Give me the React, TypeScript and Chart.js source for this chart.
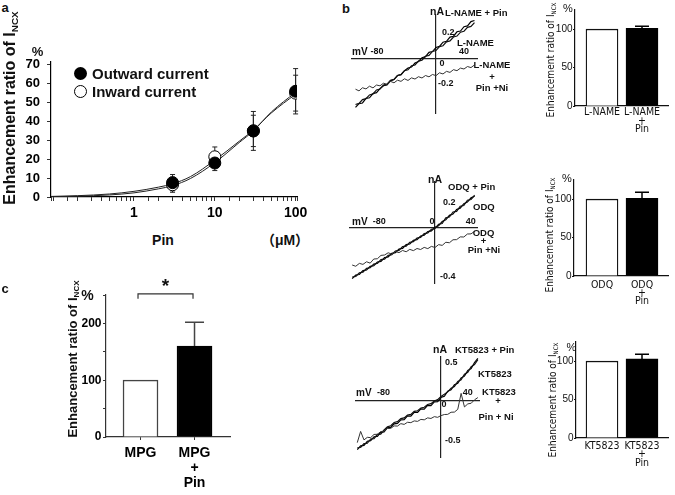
import React, { useEffect, useRef } from 'react';
import { Chart, registerables } from 'chart.js';

Chart.register(...registerables);

const SANS = "'Liberation Sans', Arial, Helvetica, sans-serif";
const SANS_CJK = "'Liberation Sans', 'Noto Sans CJK JP', sans-serif";
const NARROW = "'Liberation Sans Narrow', 'Arial Narrow', 'DejaVu Sans Condensed', 'Liberation Sans', sans-serif";

// ---------------- Panel a: dose response ----------------
const PIN_CONC = [3, 10, 30, 100];
const OUT_MEAN = [7.6, 18, 35, 56];
const OUT_ERR = [4.3, 4, 10.3, 12];
const IN_MEAN = [6.5, 21.3, 35, 55];
const IN_ERR = [4, 5.2, 8.3, 9.5];
const FIT_CONC = [0.094, 0.2, 0.5, 1, 2, 3, 5, 10, 20, 30, 50, 100];
const FIT_IN = [0.3, 0.7, 1.6, 3.0, 5.2, 7.0, 10.8, 19.5, 29.5, 35.5, 44.5, 54.5];
const FIT_OUT = [0.1, 0.4, 1.1, 2.2, 4.3, 6.0, 9.8, 18.2, 28.8, 35.0, 45.0, 55.5];

// ---------------- Panel c: MPG ----------------
const C_POS = [1, 2];
const C_LABELS = [['MPG'], ['MPG', '+', 'Pin']];
const C_MEAN = [100, 160];
const C_ERR = [0, 42];

// ---------------- Panel b: bar insets ----------------
const BAR_POS = [1, 2];
const LNAME_LABELS = [['L-NAME'], ['L-NAME', '+', 'Pin']];
const LNAME_MEAN = [100, 101];
const LNAME_ERR = [0, 3];
const ODQ_LABELS = [['ODQ'], ['ODQ', '+', 'Pin']];
const ODQ_MEAN = [100, 101];
const ODQ_ERR = [0, 8];
const KT_LABELS = [['KT5823'], ['KT5823', '+', 'Pin']];
const KT_MEAN = [100, 103];
const KT_ERR = [0, 6];

// ---------------- Panel b: I-V traces (mV, nA) ----------------
const V1 = [-115, -110, -105, -100, -95, -90, -85, -80, -75, -70, -65, -60, -55, -50, -45, -40, -35, -30, -25, -20, -15, -10, -5, 0, 5, 10, 15, 20, 25, 30, 35, 40, 45, 50, 55];
const LNAME_PIN_I = [-0.372, -0.343, -0.338, -0.302, -0.298, -0.266, -0.259, -0.228, -0.205, -0.199, -0.168, -0.158, -0.127, -0.120, -0.090, -0.069, -0.062, -0.031, -0.019, 0.010, 0.018, 0.051, 0.057, 0.088, 0.097, 0.129, 0.136, 0.168, 0.175, 0.209, 0.215, 0.248, 0.254, 0.287, 0.296];
const LNAME_I = [-0.350, -0.341, -0.312, -0.305, -0.276, -0.268, -0.238, -0.231, -0.201, -0.193, -0.164, -0.157, -0.127, -0.120, -0.090, -0.083, -0.053, -0.046, -0.016, -0.009, 0.021, 0.028, 0.058, 0.065, 0.095, 0.102, 0.132, 0.139, 0.169, 0.176, 0.206, 0.213, 0.243, 0.250, 0.279];
const LNAME_NI_I = [-0.232, -0.245, -0.221, -0.230, -0.209, -0.222, -0.200, -0.206, -0.186, -0.195, -0.172, -0.183, -0.163, -0.172, -0.152, -0.165, -0.145, -0.154, -0.136, -0.146, -0.127, -0.137, -0.119, -0.128, -0.106, -0.115, -0.095, -0.103, -0.082, -0.090, -0.070, -0.077, -0.058, -0.066, -0.046];

const V2 = [-115, -110, -105, -100, -95, -90, -85, -80, -75, -70, -65, -60, -55, -50, -45, -40, -35, -30, -25, -20, -15, -10, -5, 0, 5, 10, 15, 20, 25, 30, 35, 40, 45, 50, 55];
const ODQ_PIN_I = [-0.405, -0.376, -0.372, -0.341, -0.336, -0.307, -0.302, -0.272, -0.267, -0.237, -0.232, -0.203, -0.197, -0.168, -0.163, -0.133, -0.128, -0.098, -0.093, -0.064, -0.058, -0.029, -0.023, 0.006, 0.018, 0.053, 0.065, 0.101, 0.112, 0.148, 0.159, 0.195, 0.207, 0.242, 0.254];
const ODQ_I = [-0.392, -0.388, -0.358, -0.353, -0.323, -0.318, -0.288, -0.283, -0.253, -0.249, -0.219, -0.214, -0.184, -0.179, -0.149, -0.145, -0.114, -0.110, -0.080, -0.075, -0.045, -0.040, -0.010, -0.004, 0.030, 0.036, 0.082, 0.088, 0.128, 0.133, 0.174, 0.180, 0.222, 0.228, 0.262];
const ODQ_NI_I = [-0.296, -0.306, -0.283, -0.291, -0.270, -0.281, -0.248, -0.246, -0.219, -0.216, -0.198, -0.209, -0.188, -0.197, -0.180, -0.190, -0.171, -0.181, -0.164, -0.172, -0.155, -0.165, -0.147, -0.156, -0.133, -0.139, -0.114, -0.118, -0.094, -0.093, -0.071, -0.072, -0.048, -0.047, -0.026];

const V3 = [-125, -120, -115, -110, -105, -100, -95, -90, -85, -80, -75, -70, -65, -60, -55, -50, -45, -40, -35, -30, -25, -20, -15, -10, -5, 0, 5, 10, 15, 20, 25, 30, 35, 40, 45, 50, 55];
const KT_PIN_I = [-0.640, -0.590, -0.585, -0.530, -0.522, -0.470, -0.466, -0.412, -0.406, -0.352, -0.348, -0.300, -0.294, -0.248, -0.246, -0.197, -0.199, -0.150, -0.151, -0.104, -0.106, -0.058, -0.060, -0.012, -0.010, 0.048, 0.062, 0.128, 0.147, 0.213, 0.232, 0.302, 0.327, 0.402, 0.428, 0.507, 0.560];
const KT_I = [-0.615, -0.612, -0.560, -0.556, -0.500, -0.495, -0.440, -0.436, -0.382, -0.340, -0.326, -0.283, -0.271, -0.232, -0.222, -0.184, -0.176, -0.137, -0.128, -0.092, -0.082, -0.046, -0.035, -0.001, 0.018, 0.060, 0.089, 0.120, 0.168, 0.190, 0.256, 0.278, 0.352, 0.378, 0.452, 0.480, 0.545];
const KT_NI_I = [-0.548, -0.400, -0.512, -0.478, -0.482, -0.440, -0.438, -0.402, -0.398, -0.362, -0.360, -0.328, -0.330, -0.298, -0.308, -0.280, -0.285, -0.262, -0.268, -0.242, -0.248, -0.222, -0.230, -0.206, -0.215, -0.192, -0.178, -0.176, -0.148, -0.146, -0.110, 0.100, -0.078, -0.038, -0.030, 0.015, 0.045];

// ---------------- helpers ----------------
const pts = (xs: number[], ys: number[]) => xs.map((x, i) => ({ x, y: ys[i] }));
const bold = (size: number, lineHeight = 1.2) => ({ family: SANS, size, weight: 'bold' as const, lineHeight });

type ErrSpec = { xs: number[]; mean: number[]; err: number[]; upOnly?: boolean; cap: number; color: string; width: number };

function errorBars(specs: ErrSpec[], under: boolean) {
  const draw = (chart: any) => {
    const { ctx } = chart;
    const xs = chart.scales.x;
    const ys = chart.scales.y;
    specs.forEach((s) => {
      s.xs.forEach((xv, i) => {
        const e = s.err[i];
        if (!e) return;
        const m = s.mean[i];
        const px = xs.getPixelForValue(xv);
        const top = ys.getPixelForValue(m + e);
        const bot = ys.getPixelForValue(s.upOnly ? m : m - e);
        ctx.save();
        ctx.strokeStyle = s.color;
        ctx.lineWidth = s.width;
        ctx.beginPath();
        ctx.moveTo(px, bot);
        ctx.lineTo(px, top);
        ctx.moveTo(px - s.cap, top);
        ctx.lineTo(px + s.cap, top);
        if (!s.upOnly) {
          ctx.moveTo(px - s.cap, bot);
          ctx.lineTo(px + s.cap, bot);
        }
        ctx.stroke();
        ctx.restore();
      });
    });
  };
  return {
    id: 'errorBars',
    beforeDatasetsDraw(chart: any) { if (under) draw(chart); },
    afterDatasetsDraw(chart: any) { if (!under) draw(chart); },
  };
}

type AxisText = { t: string; x: number; y: number; dx: number; dy: number; size: number; align?: CanvasTextAlign };

function axisTexts(items: AxisText[]) {
  return {
    id: 'axisTexts',
    afterDraw(chart: any) {
      const { ctx } = chart;
      const xs = chart.scales.x;
      const ys = chart.scales.y;
      items.forEach((it) => {
        ctx.save();
        ctx.fillStyle = '#111';
        ctx.font = `bold ${it.size}px ${SANS}`;
        ctx.textAlign = it.align || 'center';
        ctx.textBaseline = 'middle';
        ctx.fillText(it.t, xs.getPixelForValue(it.x) + it.dx, ys.getPixelForValue(it.y) + it.dy);
        ctx.restore();
      });
    },
  };
}

const SIG_PAIR = [1, 2];
const SIG_LEVEL = 252;
const sigBracket = {
  id: 'sigBracket',
  afterDraw(chart: any) {
    const { ctx } = chart;
    const xs = chart.scales.x;
    const ys = chart.scales.y;
    const x1 = xs.getPixelForValue(SIG_PAIR[0]) - 2.5;
    const x2 = xs.getPixelForValue(SIG_PAIR[1]) - 1.5;
    const y = ys.getPixelForValue(SIG_LEVEL);
    ctx.save();
    ctx.strokeStyle = '#333';
    ctx.lineWidth = 1.2;
    ctx.beginPath();
    ctx.moveTo(x1, y + 5);
    ctx.lineTo(x1, y);
    ctx.lineTo(x2, y);
    ctx.lineTo(x2, y + 5);
    ctx.stroke();
    ctx.fillStyle = '#111';
    ctx.font = `bold 19px ${SANS}`;
    ctx.textAlign = 'center';
    ctx.textBaseline = 'middle';
    ctx.fillText('*', (x1 + x2) / 2, y - 7);
    ctx.restore();
  },
};

const baseOpts = {
  responsive: false,
  animation: false as const,
  events: [] as any[],
  plugins: { legend: { display: false }, tooltip: { enabled: false } },
};

// ---------------- chart factories ----------------
const makeA = () => ({
  type: 'line',
  data: {
    datasets: [
      { data: pts(PIN_CONC, OUT_MEAN), showLine: false, pointRadius: 6, pointBackgroundColor: '#000', pointBorderColor: '#000', pointBorderWidth: 1, order: 0 },
      { data: pts(PIN_CONC, IN_MEAN), showLine: false, pointRadius: 6, pointBackgroundColor: '#fff', pointBorderColor: '#000', pointBorderWidth: 1, order: 1 },
      { data: pts(FIT_CONC, FIT_IN), borderColor: '#222', borderWidth: 1, pointRadius: 0, cubicInterpolationMode: 'monotone', order: 2 },
      { data: pts(FIT_CONC, FIT_OUT), borderColor: '#222', borderWidth: 1, pointRadius: 0, cubicInterpolationMode: 'monotone', order: 2 },
    ],
  },
  options: {
    ...baseOpts,
    layout: { padding: { left: 0, top: 22, right: 33, bottom: 0 } },
    scales: {
      x: {
        type: 'logarithmic', min: 0.094, max: 104,
        afterFit: (s: any) => { s.height = 33; },
        border: { display: true, color: '#000', width: 1.2 },
        grid: { display: true, drawOnChartArea: false, drawTicks: true, tickLength: 4, color: '#333' },
        ticks: {
          autoSkip: false, maxRotation: 0, minRotation: 0, padding: 4, color: '#000', font: bold(14),
          callback: (v: number) => {
            const l = Math.log10(v);
            return v >= 1 && Math.abs(l - Math.round(l)) < 1e-6 ? String(Math.round(v)) : '';
          },
        },
      },
      y: {
        type: 'linear', min: 0, max: 71.5,
        afterFit: (s: any) => { s.width = 51; },
        border: { display: true, color: '#000', width: 1.2 },
        grid: { display: true, drawOnChartArea: false, drawTicks: true, tickLength: 4, color: '#333' },
        ticks: { stepSize: 10, includeBounds: false, padding: 7, color: '#000', font: bold(13) },
      },
    },
  },
  plugins: [errorBars([
    { xs: PIN_CONC, mean: IN_MEAN, err: IN_ERR, cap: 2.5, color: '#222', width: 1 },
    { xs: PIN_CONC, mean: OUT_MEAN, err: OUT_ERR, cap: 2.5, color: '#222', width: 1 },
  ], true)],
});

const makeC = () => ({
  type: 'bar',
  data: {
    datasets: [{
      data: pts(C_POS, C_MEAN), backgroundColor: ['#fff', '#000'], borderColor: ['#444', '#000'],
      borderWidth: 1.5, barThickness: 35,
    }],
  },
  options: {
    ...baseOpts,
    layout: { padding: { left: 0, top: 25, right: 20, bottom: 0 } },
    scales: {
      x: {
        type: 'linear', min: 0.361, max: 2.657, offset: false,
        afterFit: (s: any) => { s.height = 58; },
        afterBuildTicks: (s: any) => { s.ticks = C_POS.map((v) => ({ value: v })); },
        border: { display: true, color: '#333', width: 1.2 },
        grid: { display: true, offset: false, drawOnChartArea: false, drawTicks: true, tickLength: 3, color: '#333' },
        ticks: {
          autoSkip: false, maxRotation: 0, minRotation: 0, padding: 5, color: '#000', font: bold(14, 1.1),
          callback: (v: number) => C_LABELS[C_POS.indexOf(v)] ?? '',
        },
      },
      y: {
        type: 'linear', min: 0, max: 250,
        afterFit: (s: any) => { s.width = 56; },
        border: { display: true, color: '#333', width: 1.2 },
        grid: { display: true, drawOnChartArea: false, drawTicks: true, tickLength: 3, color: '#333' },
        ticks: { stepSize: 50, padding: 1.5, color: '#000', font: bold(12), callback: (v: number) => (v % 100 === 0 ? String(v) : '') },
      },
    },
  },
  plugins: [errorBars([{ xs: C_POS, mean: C_MEAN, err: C_ERR, upOnly: true, cap: 9.5, color: '#444', width: 1.5 }], false), sigBracket],
});

type SmallBarLayout = { xmin: number; xmax: number; axisW: number; padTop: number; padRight: number; xH: number; labelPad: number };

const makeSmallBar = (labels: string[][], mean: number[], err: number[], L: SmallBarLayout) => () => ({
  type: 'bar',
  data: {
    datasets: [{
      data: pts(BAR_POS, mean), backgroundColor: ['#fff', '#000'], borderColor: ['#111', '#000'],
      borderWidth: 1.3, barThickness: 32,
    }],
  },
  options: {
    ...baseOpts,
    layout: { padding: { left: 0, top: L.padTop, right: L.padRight, bottom: 0 } },
    scales: {
      x: {
        type: 'linear', min: L.xmin, max: L.xmax, offset: false,
        afterFit: (s: any) => { s.height = L.xH; },
        afterBuildTicks: (s: any) => { s.ticks = BAR_POS.map((v) => ({ value: v })); },
        border: { display: true, color: '#111', width: 1.2 },
        grid: { display: false, drawTicks: false, offset: false },
        ticks: {
          autoSkip: false, maxRotation: 0, minRotation: 0, padding: L.labelPad, color: '#111',
          font: { family: NARROW, size: 10.5, lineHeight: 0.8 },
          callback: (v: number) => labels[BAR_POS.indexOf(v)] ?? '',
        },
      },
      y: {
        type: 'linear', min: 0, max: 125,
        afterFit: (s: any) => { s.width = L.axisW; },
        border: { display: true, color: '#111', width: 1.2 },
        grid: { display: true, drawOnChartArea: false, drawTicks: true, tickLength: 2, color: '#111' },
        ticks: { stepSize: 50, includeBounds: false, padding: 0.5, color: '#111', font: { family: SANS, size: 10 } },
      },
    },
  },
  plugins: [errorBars([{ xs: BAR_POS, mean, err, upOnly: true, cap: 7, color: '#000', width: 1.5 }], false)],
});

type IVLayout = { xmin: number; xmax: number; ymin: number; ymax: number; pad: { left: number; right: number; top: number; bottom: number } };

const makeIV = (v: number[], pin: number[], ctrl: number[], ni: number[], L: IVLayout, texts: AxisText[]) => () => ({
  type: 'line',
  data: {
    datasets: [
      { data: pts(v, ni), borderColor: '#333', borderWidth: 1, pointRadius: 0, tension: 0 },
      { data: pts(v, ctrl), borderColor: '#111', borderWidth: 1.2, pointRadius: 0, tension: 0 },
      { data: pts(v, pin), borderColor: '#000', borderWidth: 1.2, pointRadius: 0, tension: 0 },
    ],
  },
  options: {
    ...baseOpts,
    layout: { padding: L.pad },
    scales: {
      x: {
        type: 'linear', min: L.xmin, max: L.xmax, position: { y: 0 },
        border: { display: true, color: '#222', width: 1.2 },
        grid: { display: false, drawTicks: false },
        ticks: { display: false },
      },
      y: {
        type: 'linear', min: L.ymin, max: L.ymax, position: { x: 0 },
        border: { display: true, color: '#222', width: 1.2 },
        grid: { display: false, drawTicks: false },
        ticks: { display: false },
      },
    },
  },
  plugins: [axisTexts(texts)],
});

// ---------------- layouts ----------------
const IV1_TEXTS: AxisText[] = [
  { t: 'mV', x: -120, y: 0, dx: 0, dy: -7, size: 10, align: 'left' },
  { t: '-80', x: -80, y: 0, dx: -3, dy: -7, size: 9 },
  { t: '40', x: 40, y: 0, dx: 0, dy: -7, size: 9 },
  { t: '0', x: 0, y: 0, dx: 6, dy: 5, size: 9 },
  { t: '0.2', x: 0, y: 0.2, dx: 6, dy: 0, size: 9, align: 'left' },
  { t: '-0.2', x: 0, y: -0.2, dx: 2, dy: -1.5, size: 9, align: 'left' },
  { t: 'nA', x: 0, y: 0.338, dx: 1, dy: -3, size: 10.5 },
];
const IV2_TEXTS: AxisText[] = [
  { t: 'mV', x: -118, y: 0, dx: 2, dy: -6, size: 10, align: 'left' },
  { t: '-80', x: -80, y: 0, dx: 2, dy: -6, size: 9 },
  { t: '40', x: 40, y: 0, dx: 7, dy: -6, size: 9 },
  { t: '0', x: 0, y: 0, dx: -3, dy: -6, size: 9 },
  { t: '0.2', x: 0, y: 0.2, dx: 8, dy: 0, size: 9, align: 'left' },
  { t: '-0.4', x: 0, y: -0.4, dx: 5, dy: -1, size: 9, align: 'left' },
  { t: 'nA', x: 0, y: 0.368, dx: 0, dy: -2, size: 10.5 },
];
const IV3_TEXTS: AxisText[] = [
  { t: 'mV', x: -126.9, y: 0, dx: 0, dy: -8, size: 10, align: 'left' },
  { t: '-80', x: -80, y: 0, dx: -4, dy: -8, size: 9 },
  { t: '40', x: 40, y: 0, dx: 0, dy: -8, size: 9 },
  { t: '0', x: 0, y: 0, dx: 3, dy: 4, size: 9 },
  { t: '0.5', x: 0, y: 0.5, dx: 4, dy: 0, size: 9, align: 'left' },
  { t: '-0.5', x: 0, y: -0.5, dx: 4, dy: 2, size: 9, align: 'left' },
  { t: 'nA', x: 0, y: 0.579, dx: -1, dy: -7, size: 10.5 },
];

// ---------------- components ----------------
function ChartCanvas({ box, make }: { box: [number, number, number, number]; make: () => any }) {
  const ref = useRef<HTMLCanvasElement | null>(null);
  useEffect(() => {
    const chart = new Chart(ref.current as HTMLCanvasElement, make() as any);
    return () => chart.destroy();
  }, []);
  const [left, top, width, height] = box;
  return <canvas ref={ref} width={width} height={height} style={{ position: 'absolute', left, top, width, height }} />;
}

type TxtProps = { x: number; y: number; size: number; bold?: boolean; align?: 'left' | 'center'; family?: string; rot?: boolean; children: React.ReactNode };
function Txt({ x, y, size, bold: b = true, align = 'center', family = SANS, rot = false, children }: TxtProps) {
  const tx = align === 'left' ? '0' : '-50%';
  return (
    <div
      style={{
        position: 'absolute', left: x, top: y, whiteSpace: 'nowrap', lineHeight: 1, color: '#111',
        fontFamily: family, fontSize: size, fontWeight: b ? 'bold' : 'normal',
        transform: `translate(${tx}, -50%)${rot ? ' rotate(-90deg)' : ''}`,
      }}
    >
      {children}
    </div>
  );
}

const Sub = () => <span style={{ fontSize: '0.62em', position: 'relative', top: '0.3em' }}>NCX</span>;

export default function App() {
  return (
    <div style={{ position: 'absolute', left: 0, top: 0, width: 675, height: 495, background: '#fff', overflow: 'hidden' }}>
      {/* Panel a */}
      <ChartCanvas box={[0, 40, 330, 190]} make={makeA} />
      <Txt x={5} y={7} size={13}>a</Txt>
      <Txt x={37.5} y={51} size={13}>%</Txt>
      <Txt x={10} y={108} size={16} rot>Enhancement ratio of I<Sub /></Txt>
      <div style={{ position: 'absolute', left: 73.5, top: 66.5, width: 13, height: 13, borderRadius: '50%', background: '#000' }} />
      <div style={{ position: 'absolute', left: 74, top: 84.5, width: 11, height: 11, borderRadius: '50%', border: '1px solid #000', background: '#fff' }} />
      <Txt x={92} y={73} size={15} align="left">Outward current</Txt>
      <Txt x={92} y={91} size={15} align="left">Inward current</Txt>
      <Txt x={163} y={240} size={14}>Pin</Txt>
      <Txt x={285} y={240} size={14} family={SANS_CJK}>（μM）</Txt>

      {/* Panel c */}
      <ChartCanvas box={[50, 270, 200, 225]} make={makeC} />
      <Txt x={5} y={288} size={13}>c</Txt>
      <Txt x={87.5} y={295} size={14}>%</Txt>
      <Txt x={72.5} y={359} size={13} rot>Enhancement ratio of I<Sub /></Txt>

      {/* Panel b: I-V traces */}
      <Txt x={346} y={8} size={13}>b</Txt>
      <ChartCanvas box={[340, 0, 150, 125]} make={makeIV(V1, LNAME_PIN_I, LNAME_I, LNAME_NI_I, { xmin: -120, xmax: 58.6, ymin: -0.415, ymax: 0.338, pad: { left: 12, right: 13, top: 15, bottom: 12 } }, IV1_TEXTS)} />
      <ChartCanvas box={[340, 170, 150, 125]} make={makeIV(V2, ODQ_PIN_I, ODQ_I, ODQ_NI_I, { xmin: -118, xmax: 58.3, ymin: -0.44, ymax: 0.368, pad: { left: 10, right: 13, top: 12, bottom: 12 } }, IV2_TEXTS)} />
      <ChartCanvas box={[340, 345, 150, 125]} make={makeIV(V3, KT_PIN_I, KT_I, KT_NI_I, { xmin: -126.9, xmax: 56.7, ymin: -0.737, ymax: 0.579, pad: { left: 16, right: 11, top: 12, bottom: 13 } }, IV3_TEXTS)} />

      <Txt x={445} y={13} size={9.5} align="left">L-NAME + Pin</Txt>
      <Txt x={457} y={43} size={9.5} align="left">L-NAME</Txt>
      <Txt x={492} y={65} size={9.5}>L-NAME</Txt>
      <Txt x={492} y={76.5} size={9.5}>+</Txt>
      <Txt x={492} y={88} size={9.5}>Pin +Ni</Txt>

      <Txt x={448} y={187} size={9.5} align="left">ODQ + Pin</Txt>
      <Txt x={473} y={207} size={9.5} align="left">ODQ</Txt>
      <Txt x={483.5} y={232.5} size={9.5}>ODQ</Txt>
      <Txt x={483.5} y={240.5} size={9.5}>+</Txt>
      <Txt x={484} y={249.5} size={9.5}>Pin +Ni</Txt>

      <Txt x={455} y={349.5} size={9.5} align="left">KT5823 + Pin</Txt>
      <Txt x={478} y={374} size={9.5} align="left">KT5823</Txt>
      <Txt x={499} y={392} size={9.5}>KT5823</Txt>
      <Txt x={498} y={401} size={9.5}>+</Txt>
      <Txt x={496} y={416.5} size={9.5}>Pin + Ni</Txt>

      {/* Panel b: bar insets */}
      <ChartCanvas box={[520, 0, 155, 140]} make={makeSmallBar(LNAME_LABELS, LNAME_MEAN, LNAME_ERR, { xmin: 0.325, xmax: 2.65, axisW: 55, padTop: 10, padRight: 7, xH: 34, labelPad: 2.2 })} />
      <ChartCanvas box={[520, 150, 155, 160]} make={makeSmallBar(ODQ_LABELS, ODQ_MEAN, ODQ_ERR, { xmin: 0.3, xmax: 2.65, axisW: 54, padTop: 30, padRight: 7, xH: 34, labelPad: 4.7 })} />
      <ChartCanvas box={[520, 320, 155, 175]} make={makeSmallBar(KT_LABELS, KT_MEAN, KT_ERR, { xmin: 0.35, xmax: 2.65, axisW: 56, padTop: 22, padRight: 7, xH: 57, labelPad: 4.1 })} />

      <Txt x={568} y={7.5} size={11} bold={false}>%</Txt>
      <Txt x={551} y={59.5} size={10} bold={false} family={NARROW} rot>Enhancement ratio of I<Sub /></Txt>
      <Txt x={567} y={177.5} size={11} bold={false}>%</Txt>
      <Txt x={550} y={235} size={10} bold={false} family={NARROW} rot>Enhancement ratio of I<Sub /></Txt>
      <Txt x={571.5} y={346.5} size={11} bold={false}>%</Txt>
      <Txt x={553} y={399.5} size={10} bold={false} family={NARROW} rot>Enhancement ratio of I<Sub /></Txt>
    </div>
  );
}
